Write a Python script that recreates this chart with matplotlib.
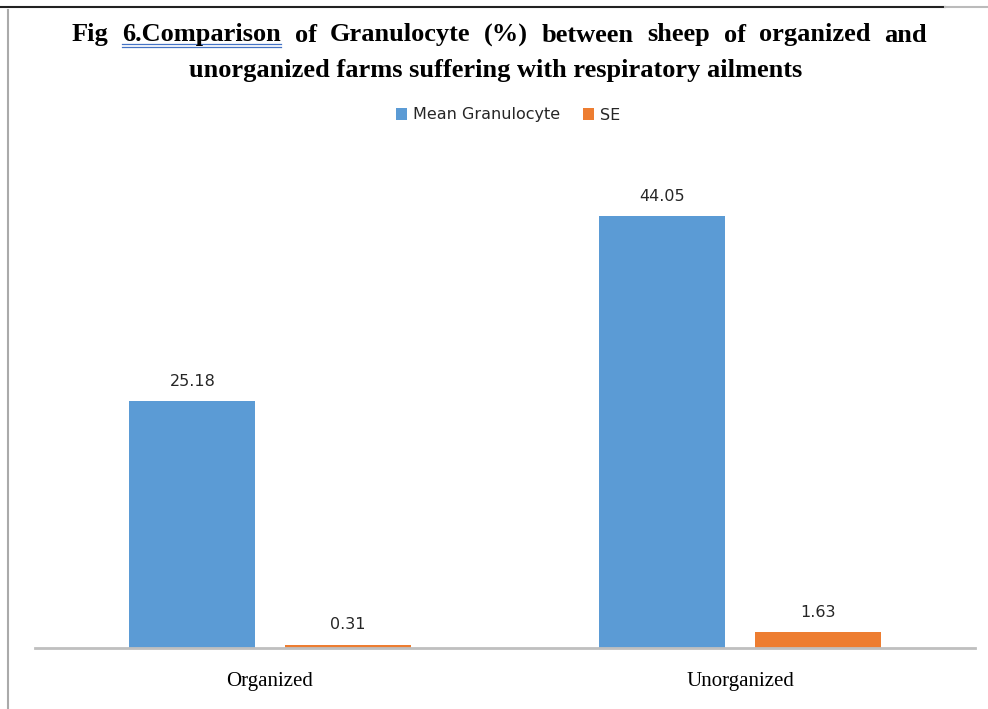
import matplotlib
matplotlib.use("Agg")
import matplotlib.pyplot as plt
from matplotlib.lines import Line2D

categories = ["Organized", "Unorganized"]
mean_gran = [25.18, 44.05]
se_vals = [0.31, 1.63]
series_names = ["Mean Granulocyte", "SE"]
title_line1 = "Fig 6.Comparison of Granulocyte (%) between sheep of organized and"
title_line2 = "unorganized farms suffering with respiratory ailments"

BLUE = "#5b9bd5"
ORANGE = "#ed7d31"
W, H = 988, 709

fig = plt.figure(figsize=(W/100, H/100), dpi=100)
ax = fig.add_axes([35/W, 1 - 648/H, 940/W, 490/H])

x = list(range(len(categories)))
w = 0.268
off = 0.165
b1 = ax.bar([i - off for i in x], mean_gran, w, color=BLUE, label=series_names[0])
b2 = ax.bar([i + off for i in x], se_vals, w, color=ORANGE, label=series_names[1])

for bars, vals in ((b1, mean_gran), (b2, se_vals)):
    for r, v in zip(bars, vals):
        ax.annotate("%.2f" % v, (r.get_x() + r.get_width()/2, r.get_height()),
                    xytext=(0, 9), textcoords="offset points", ha="center", va="bottom",
                    fontsize=11.5, family="DejaVu Sans", color="#262626")

ax.set_xlim(-0.5, 1.5)
ax.set_ylim(0, 50)
ax.set_yticks([])
ax.set_xticks(x)
ax.set_xticklabels(categories, family="Liberation Serif", fontsize=15)
ax.tick_params(axis="x", length=0, pad=17)
for s in ("top", "right", "left"):
    ax.spines[s].set_visible(False)
ax.spines["bottom"].set_color("#bfbfbf")
ax.spines["bottom"].set_linewidth(2)

# title: first line justified between x=72 and x=927 like the Word original
tkw = dict(family="Liberation Serif", weight="bold", fontsize=19, va="center")
fig.canvas.draw()
rend = fig.canvas.get_renderer()
words = title_line1.split()
widths = []
for wd in words:
    t = fig.text(0, 0, wd, **tkw)
    widths.append(t.get_window_extent(rend).width)
    t.remove()
x0, x1 = 72, 927
gap = (x1 - x0 - sum(widths)) / (len(words) - 1)
cur = x0
y1 = 1 - 35/H
for wd, wid in zip(words, widths):
    fig.text(cur/W, y1, wd, ha="left", **tkw)
    if wd.startswith("6."):
        # Word's blue double underline under the flagged word
        for yy in (44, 47):
            fig.add_artist(Line2D([cur/W, (cur + wid)/W], [1 - yy/H]*2,
                                  color="#4472c4", lw=0.9, transform=fig.transFigure))
    cur += wid + gap
fig.text(0.502, 1 - 70/H, title_line2, ha="center", **tkw)

fig.legend(handles=[b1, b2], loc="center", bbox_to_anchor=(508/W, 1 - 115/H), ncol=2,
           frameon=False, prop={"family": "DejaVu Sans", "size": 11.5}, handlelength=0.7,
           handleheight=0.7, columnspacing=1.4, handletextpad=0.4, labelcolor="#262626")

# page edges of the screenshot: dark top rule, grey left rule
fig.add_artist(Line2D([0, 945/W], [1 - 7/H]*2, color="#222222", lw=1.5, transform=fig.transFigure))
fig.add_artist(Line2D([945/W, 1], [1 - 7/H]*2, color="#bbbbbb", lw=1.5, transform=fig.transFigure))
fig.add_artist(Line2D([8/W]*2, [0, 1 - 10/H], color="#aaaaaa", lw=1.5, transform=fig.transFigure))

fig.savefig("out.png", dpi=100)
